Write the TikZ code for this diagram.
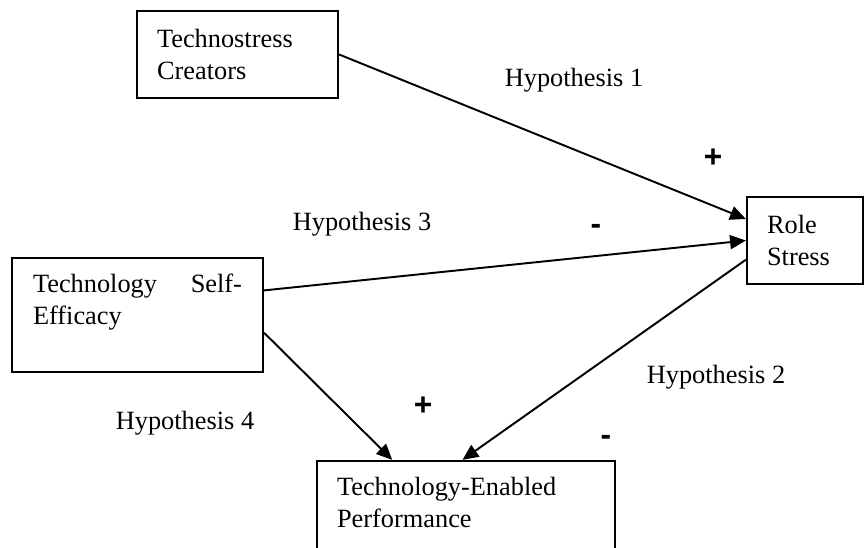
\documentclass[tikz,border=0pt]{standalone}
\usepackage{fontspec}
\setmainfont{Liberation Serif}
\newfontfamily\signfont{Liberation Sans}
\usetikzlibrary{arrows.meta}

\begin{document}
\begin{tikzpicture}[x=0.02cm,y=-0.02cm,
  construct/.style={draw,line width=1.3pt,align=left,inner xsep=0.4cm,inner ysep=0pt,
    font=\fontsize{15}{18}\selectfont},
  hyp/.style={font=\fontsize{15}{18}\selectfont},
  sign/.style={anchor=base,font=\signfont\bfseries\fontsize{18}{20}\selectfont},
  link/.style={-{Triangle[length=9pt,width=8pt]},line width=1.1pt}]
\path[use as bounding box,clip] (0,0) rectangle (864,547);

\node[construct,text width=3.22cm,minimum height=1.74cm] (tc) at (237.5,54.5) {Technostress\\Creators};
\node[construct,text width=1.52cm,minimum height=1.74cm] (rs) at (805,240.5) {Role\\Stress};
\node[construct,inner xsep=0.42cm,text width=4.18cm,minimum height=2.28cm] (se) at (137.5,315) {Technology\hfill Self-\\Efficacy\\\mbox{}};
\node[construct,text width=5.16cm,minimum height=2.28cm] (tp) at (466,518) {Technology-Enabled\\Performance\\\mbox{}};

\node[hyp] (h1) at (574,80) {Hypothesis 1};
\node[hyp] (h3) at (362,224) {Hypothesis 3};
\node[hyp] (h2) at (716,377) {Hypothesis 2};
\node[hyp] (h4) at (185,423) {Hypothesis 4};

\node[sign] (p1) at (713,167.5) {+};
\node[sign] (m3) at (596,234) {-};
\node[sign] (p4) at (423,415.5) {+};
\node[sign] (m2) at (606,445) {-};

\draw[link] (tc.east) -- (rs.160);
\draw[link] (se.11) -- (rs.west);
\draw[link] (rs.198) -- ([xshift=-2pt]tp.north);
\draw[link] (se.-8) -- ([xshift=-42pt]tp.north);

\end{tikzpicture}
\end{document}
